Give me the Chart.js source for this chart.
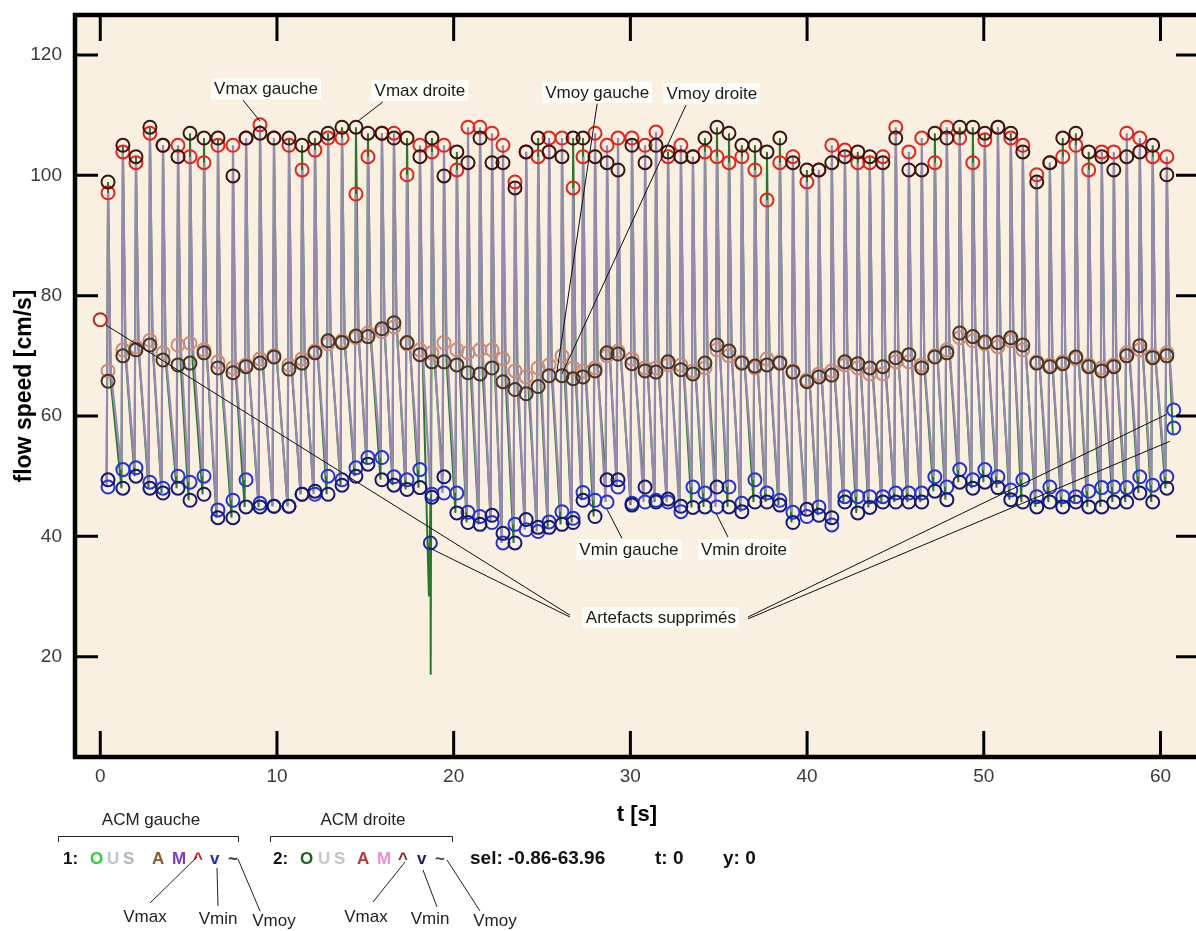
<!DOCTYPE html>
<html>
<head>
<meta charset="utf-8">
<script src="https://cdn.jsdelivr.net/npm/chart.js@4/dist/chart.umd.min.js"></script>
<style>
  body { margin: 0; background: #fff; overflow: hidden; }
</style>
</head>
<body>
<canvas id="flowChart" width="1230" height="931"></canvas>
<script>
// temps des pics systoliques [s]
var beatT = [0.44, 1.28, 2.02, 2.81, 3.55, 4.40, 5.08, 5.87, 6.66, 7.51, 8.25, 9.04, 9.83, 10.68, 11.42, 12.15, 12.89, 13.68, 14.47, 15.15, 15.94, 16.62,
  17.36, 18.09, 18.77, 19.45, 20.18, 20.81, 21.49, 22.17, 22.79, 23.47, 24.10, 24.78, 25.40, 26.13, 26.76, 27.32, 28.00, 28.68, 29.30, 30.09,
  30.83, 31.45, 32.13, 32.86, 33.54, 34.22, 34.90, 35.58, 36.31, 37.05, 37.73, 38.46, 39.20, 39.99, 40.67, 41.40, 42.14, 42.87, 43.55, 44.29,
  45.02, 45.76, 46.49, 47.23, 47.91, 48.64, 49.38, 50.06, 50.80, 51.53, 52.21, 53.00, 53.74, 54.47, 55.21, 55.94, 56.68, 57.36, 58.09, 58.83,
  59.56, 60.36];

var vmaxGauche = [97.1, 103.9, 102.1, 107.0, 105.0, 105.0, 103.1, 102.1, 105.0, 105.0, 106.2, 108.4, 106.2, 105.0, 100.9, 104.2, 106.2, 106.2, 96.9, 103.1, 107.0, 107.0,
  100.1, 105.0, 103.9, 105.0, 100.9, 108.0, 108.0, 107.0, 105.0, 98.9, 103.9, 103.1, 106.2, 106.2, 97.9, 103.1, 107.0, 105.0, 106.2, 106.2,
  105.0, 107.2, 103.1, 105.0, 103.1, 103.9, 103.1, 102.1, 103.1, 100.9, 95.9, 102.1, 103.1, 98.9, 100.9, 105.0, 104.2, 102.1, 102.1, 103.1,
  108.0, 103.9, 106.2, 102.1, 108.0, 106.2, 102.1, 105.9, 108.0, 106.2, 105.0, 100.1, 102.1, 103.1, 105.0, 100.9, 103.9, 103.9, 107.0, 106.2,
  103.1, 103.1];

var vmaxDroite = [98.9, 105.0, 103.1, 108.0, 105.0, 103.1, 107.0, 106.2, 106.2, 99.9, 106.2, 107.0, 106.2, 106.2, 105.0, 106.2, 107.0, 108.0, 108.0, 107.0, 107.0, 106.2,
  106.2, 103.1, 106.2, 99.9, 103.9, 102.1, 106.2, 102.1, 102.1, 97.9, 103.9, 106.2, 103.9, 103.1, 106.2, 106.2, 103.1, 102.1, 100.9, 105.0,
  102.1, 105.0, 103.9, 103.1, 103.1, 106.2, 108.0, 107.0, 105.0, 105.0, 103.9, 106.2, 102.1, 100.9, 100.9, 102.1, 103.1, 103.9, 103.1, 102.1,
  106.2, 100.9, 100.9, 107.0, 106.2, 108.0, 108.0, 107.0, 108.0, 107.0, 103.9, 98.9, 102.1, 106.2, 107.0, 103.9, 103.1, 100.9, 103.1, 103.9,
  105.0, 100.1];

var vminGauche = [48.2, 51.1, 51.4, 49.0, 48.0, 50.0, 49.0, 50.0, 44.4, 46.0, 49.4, 45.5, 45.0, 45.0, 47.0, 47.0, 50.0, 49.4, 51.4, 53.1, 53.1, 49.9,
  49.4, 51.1, 47.0, 47.2, 47.2, 44.0, 43.3, 42.3, 38.9, 42.0, 41.1, 40.8, 42.4, 44.1, 43.0, 47.3, 46.0, 45.7, 48.2, 45.5,
  45.7, 46.0, 45.7, 44.1, 48.2, 47.2, 44.9, 48.2, 45.5, 49.4, 47.2, 46.0, 44.0, 43.3, 44.9, 41.9, 46.6, 46.6, 46.6, 46.6,
  47.2, 47.2, 47.2, 49.9, 48.2, 51.1, 49.4, 51.1, 49.9, 47.7, 49.4, 46.6, 48.2, 46.6, 46.6, 47.5, 48.1, 48.2, 48.1, 49.9,
  48.5, 49.9];

var vminDroite = [49.4, 48.0, 50.0, 48.0, 47.2, 48.0, 46.0, 47.0, 43.1, 43.1, 44.9, 44.9, 45.0, 45.0, 47.0, 47.5, 47.0, 48.5, 50.0, 52.0, 49.4, 48.5,
  47.8, 48.1, 46.5, 49.9, 43.9, 42.3, 42.0, 43.5, 40.5, 38.9, 42.8, 41.5, 41.5, 42.0, 42.3, 46.0, 43.3, 49.4, 49.4, 45.2,
  48.2, 45.7, 46.2, 45.0, 44.8, 44.9, 48.2, 44.9, 44.1, 45.7, 45.7, 45.2, 42.3, 44.5, 43.5, 43.1, 45.7, 43.9, 44.8, 45.7,
  45.7, 45.7, 45.7, 47.5, 46.1, 49.0, 48.0, 49.0, 48.1, 46.1, 45.7, 44.9, 45.7, 44.9, 45.7, 44.9, 44.9, 45.7, 45.7, 47.2,
  45.7, 48.0];

var vmoyGauche = [67.5, 71.0, 71.5, 72.6, 70.5, 71.8, 72.1, 71.0, 69.0, 68.0, 68.5, 69.5, 70.0, 68.5, 69.5, 70.8, 72.0, 72.5, 73.0, 73.8, 74.0, 74.8,
  72.0, 71.0, 70.5, 72.2, 71.0, 70.5, 71.0, 71.0, 69.5, 67.5, 66.5, 68.0, 68.5, 70.0, 68.0, 67.5, 68.0, 70.0, 70.8, 69.5,
  68.0, 68.0, 68.5, 68.5, 67.5, 68.0, 71.0, 70.0, 69.0, 68.0, 69.5, 69.0, 67.5, 66.0, 67.0, 67.5, 68.5, 68.0, 67.0, 67.0,
  69.0, 69.0, 68.5, 70.0, 71.0, 73.0, 72.5, 72.0, 71.5, 72.5, 71.0, 69.0, 68.5, 69.0, 69.5, 68.5, 68.0, 68.5, 70.5, 71.0,
  70.0, 70.5];

var vmoyDroite = [65.8, 70.0, 71.0, 71.8, 69.3, 68.5, 68.8, 70.5, 68.0, 67.2, 68.2, 68.8, 69.8, 67.8, 68.8, 70.5, 72.5, 72.2, 73.3, 73.2, 74.5, 75.5,
  72.2, 70.2, 69.0, 69.0, 68.5, 67.2, 67.0, 68.0, 65.7, 64.4, 63.7, 64.9, 66.7, 66.7, 66.2, 66.5, 67.5, 70.5, 70.3, 68.7,
  67.5, 67.3, 69.0, 67.7, 67.0, 68.8, 71.8, 70.8, 68.8, 68.3, 68.5, 68.8, 67.3, 65.7, 66.5, 66.8, 69.0, 68.7, 68.0, 68.2,
  69.7, 70.2, 68.0, 69.8, 70.5, 73.8, 73.2, 72.3, 72.2, 73.0, 71.8, 68.8, 68.2, 68.7, 69.8, 68.2, 67.5, 68.2, 70.0, 71.7,
  69.7, 70.0];

// artefacts supprimés (points isolés)
var artefactT = [0.0, 18.68, 60.75, 60.75];
var artefactV = [76.0, 38.9, 61.0, 58.0];

// pointe de l'artefact sur le tracé droit, et fin des tracés
var spikeT = [18.60, 18.70];
var spikeV = [30.0, 17.0];
var tailT = [60.70];
var tailGauche = [62.0];
var tailDroite = [57.0];

var xTicks = [0, 10, 20, 30, 40, 50, 60];
var yTicks = [20, 40, 60, 80, 100, 120];

var riseTime = 0.08; // min juste avant la montée systolique
var fallTime = 0.15; // retombée rapide vers le niveau moyen

function buildTrace(vmin, vmax, vmoy, extraT, extraV) {
    var pts = [];
    for (var i = 0; i < beatT.length; i++) {
        pts.push({ x: beatT[i] - riseTime, y: vmin[i] });
        pts.push({ x: beatT[i], y: vmax[i] });
        pts.push({ x: beatT[i] + fallTime, y: vmoy[i] });
    }
    for (var j = 0; j < extraT.length; j++) {
        pts.push({ x: extraT[j], y: extraV[j] });
    }
    pts.sort(function (a, b) { return a.x - b.x; });
    return pts;
}

function points(values) {
    return beatT.map(function (t, i) { return { x: t, y: values[i] }; });
}

function circles(label, values, color) {
    return {
        label: label,
        data: points(values),
        showLine: false,
        pointStyle: 'circle',
        pointRadius: 6.5,
        pointBorderWidth: 2,
        pointBorderColor: color,
        pointBackgroundColor: 'rgba(0,0,0,0)'
    };
}

var artefactPts = artefactT.map(function (t, i) { return { x: t, y: artefactV[i] }; });

var traceGauche = buildTrace(vminGauche, vmaxGauche, vmoyGauche, tailT, tailGauche);
var traceDroite = buildTrace(vminDroite, vmaxDroite, vmoyDroite, spikeT.concat(tailT), spikeV.concat(tailDroite));

// annotations (en unités des axes)
var notes = [
    { text: 'Vmax gauche', t: 9.38, v: 114.3, lines: [[8.08, 112.5, 9.04, 109.0]] },
    { text: 'Vmax droite', t: 18.09, v: 114.0, lines: [[15.99, 112.2, 14.58, 109.0]] },
    { text: 'Vmoy gauche', t: 28.12, v: 113.7, lines: [[28.12, 111.9, 25.84, 67.3]] },
    { text: 'Vmoy droite', t: 34.61, v: 113.5, lines: [[33.15, 111.7, 26.13, 67.0]] },
    { text: 'Vmin gauche', t: 29.92, v: 37.7, lines: [[29.52, 39.7, 28.68, 44.5]] },
    { text: 'Vmin droite', t: 36.43, v: 37.7, lines: [[35.52, 39.9, 34.84, 43.9]] },
    { text: 'Artefacts supprimés', t: 31.73, v: 26.4, lines: [
        [26.58, 26.9, 0.33, 75.1], [26.58, 26.6, 18.55, 38.2],
        [36.66, 26.6, 60.36, 60.3], [36.66, 26.3, 60.53, 55.8]] }
];

var framePlugin = {
    id: 'frame',
    beforeDraw: function (chart) {
        var ctx = chart.ctx, a = chart.chartArea;
        ctx.save();
        ctx.fillStyle = '#ffffff';
        ctx.fillRect(0, 0, chart.width, chart.height);
        ctx.fillStyle = '#faf0e1';
        ctx.fillRect(a.left, a.top, a.right - a.left, a.bottom - a.top);
        ctx.restore();
    },
    afterDatasetsDraw: function (chart) {
        var ctx = chart.ctx, a = chart.chartArea;
        var sx = chart.scales.x, sy = chart.scales.y;
        ctx.save();

        // traits des annotations
        ctx.strokeStyle = '#111';
        ctx.lineWidth = 1;
        notes.forEach(function (n) {
            n.lines.forEach(function (l) {
                ctx.beginPath();
                ctx.moveTo(sx.getPixelForValue(l[0]), sy.getPixelForValue(l[1]));
                ctx.lineTo(sx.getPixelForValue(l[2]), sy.getPixelForValue(l[3]));
                ctx.stroke();
            });
        });
        ctx.font = '17px Arial';
        ctx.textAlign = 'center';
        ctx.textBaseline = 'middle';
        notes.forEach(function (n) {
            var x = sx.getPixelForValue(n.t), y = sy.getPixelForValue(n.v);
            var w = ctx.measureText(n.text).width;
            ctx.fillStyle = '#fffdf9';
            ctx.fillRect(x - w / 2 - 3, y - 11, w + 6, 21);
            ctx.fillStyle = '#1a1a1a';
            ctx.fillText(n.text, x, y);
        });

        // cadre noir
        ctx.strokeStyle = '#000';
        ctx.lineWidth = 4.5;
        ctx.strokeRect(a.left, a.top, a.right - a.left, a.bottom - a.top);

        // graduations vers l'intérieur
        ctx.lineWidth = 3;
        ctx.beginPath();
        yTicks.forEach(function (v) {
            var y = sy.getPixelForValue(v);
            ctx.moveTo(a.left, y); ctx.lineTo(a.left + 23, y);
            ctx.moveTo(a.right, y); ctx.lineTo(a.right - 23, y);
        });
        xTicks.forEach(function (t) {
            var x = sx.getPixelForValue(t);
            ctx.moveTo(x, a.bottom); ctx.lineTo(x, a.bottom - 26);
            ctx.moveTo(x, a.top); ctx.lineTo(x, a.top + 26);
        });
        ctx.stroke();
        ctx.restore();
    },
    afterDraw: function (chart) {
        var ctx = chart.ctx;
        ctx.save();
        ctx.fillStyle = '#222';
        ctx.strokeStyle = '#222';
        ctx.lineWidth = 1;
        ctx.textBaseline = 'alphabetic';

        // titres des groupes + accolades
        ctx.font = '17px Arial';
        ctx.textAlign = 'center';
        ctx.fillText('ACM gauche', 151, 825);
        ctx.fillText('ACM droite', 363, 825);
        ctx.beginPath();
        ctx.moveTo(58.5, 842); ctx.lineTo(58.5, 836.5); ctx.lineTo(238.5, 836.5); ctx.lineTo(238.5, 842);
        ctx.moveTo(270.5, 842); ctx.lineTo(270.5, 836.5); ctx.lineTo(452.5, 836.5); ctx.lineTo(452.5, 842);
        ctx.stroke();

        // lettres des signaux
        var group1 = [['1:', 63, '#111'], ['O', 90, '#2fcc2f'], ['U', 107, '#b8c6d4'], ['S', 123, '#b4b4b4'],
            ['A', 152, '#8b5a2b'], ['M', 172, '#7b3cc4'], ['^', 193, '#d02020'], ['v', 210, '#1f2fb0'], ['~', 228, '#333']];
        var group2 = [['2:', 273, '#111'], ['O', 300, '#1f5f1f'], ['U', 318, '#c8c8c8'], ['S', 334, '#c2c2c2'],
            ['A', 357, '#b23a3a'], ['M', 377, '#e88fe0'], ['^', 398, '#8a1f2a'], ['v', 417, '#1a1a6e'], ['~', 435, '#444']];
        ctx.font = 'bold 17px Arial';
        ctx.textAlign = 'left';
        group1.concat(group2).forEach(function (g) {
            ctx.fillStyle = g[2];
            ctx.fillText(g[0], g[1], 864);
        });

        ctx.fillStyle = '#111';
        ctx.font = 'bold 19px Arial';
        ctx.fillText('sel: -0.86-63.96', 470, 864);
        ctx.fillText('t: 0', 655, 864);
        ctx.fillText('y: 0', 723, 864);

        // étiquettes Vmax / Vmin / Vmoy
        ctx.font = '17px Arial';
        ctx.textAlign = 'center';
        ctx.fillStyle = '#222';
        var subs = [['Vmax', 145, 922, 150, 903, 197, 857], ['Vmin', 218, 924, 218, 906, 217, 868], ['Vmoy', 274, 926, 260, 911, 238, 859],
            ['Vmax', 366, 922, 373, 902, 405, 862], ['Vmin', 430, 924, 437, 907, 423, 870], ['Vmoy', 495, 926, 480, 911, 447, 860]];
        ctx.beginPath();
        subs.forEach(function (s) {
            ctx.fillText(s[0], s[1], s[2]);
            ctx.moveTo(s[3], s[4]); ctx.lineTo(s[5], s[6]);
        });
        ctx.stroke();
        ctx.restore();
    }
};

var ctx = document.getElementById('flowChart').getContext('2d');

var flowChart = new Chart(ctx, {
    type: 'scatter',
    data: {
        datasets: [
            circles('Vmax droite', vmaxDroite, '#3b1410'),
            circles('Vmax gauche', vmaxGauche, '#e3231d'),
            circles('Vmin droite', vminDroite, '#14186e'),
            circles('Vmin gauche', vminGauche, '#2433d6'),
            circles('Vmoy droite', vmoyDroite, '#4a3424'),
            circles('Vmoy gauche', vmoyGauche, '#c98d7c'),
            {
                label: 'artefacts',
                data: artefactPts,
                showLine: false,
                pointRadius: 6.5,
                pointBorderWidth: 2,
                pointBorderColor: ['#b8281c', '#1f2aa8', '#2535d0', '#2535d0'],
                pointBackgroundColor: 'rgba(0,0,0,0)'
            },
            {
                label: 'ACM gauche',
                data: traceGauche,
                showLine: true,
                borderColor: '#958aad',
                borderWidth: 2.2,
                pointRadius: 0,
                tension: 0
            },
            {
                label: 'ACM droite',
                data: traceDroite,
                showLine: true,
                borderColor: '#2b762b',
                borderWidth: 2,
                pointRadius: 0,
                tension: 0
            }
        ]
    },
    options: {
        responsive: false,
        animation: false,
        devicePixelRatio: 1,
        layout: { padding: { left: 0, top: 15, right: 31, bottom: 0 } },
        plugins: {
            legend: { display: false },
            tooltip: { enabled: false }
        },
        scales: {
            x: {
                type: 'linear',
                min: -1.43,
                max: 62.18,
                afterBuildTicks: function (s) { s.ticks = xTicks.map(function (v) { return { value: v }; }); },
                afterFit: function (s) { s.height = 174; s.paddingLeft = 0; s.paddingRight = 0; },
                grid: { display: false, drawTicks: false },
                border: { display: false },
                ticks: { autoSkip: false, maxRotation: 0, padding: 8, color: '#3a3a3a', font: { family: 'Arial', size: 19 } },
                title: {
                    display: true,
                    text: 't [s]',
                    color: '#000',
                    font: { family: 'Arial', size: 22, weight: 'bold' },
                    padding: { top: 0, bottom: 103 }
                }
            },
            y: {
                type: 'linear',
                min: 3.33,
                max: 126.65,
                afterBuildTicks: function (s) { s.ticks = yTicks.map(function (v) { return { value: v }; }); },
                afterFit: function (s) { s.width = 75; s.paddingTop = 0; s.paddingBottom = 0; },
                grid: { display: false, drawTicks: false },
                border: { display: false },
                ticks: { autoSkip: false, padding: 13, color: '#3a3a3a', font: { family: 'Arial', size: 19 } },
                title: {
                    display: true,
                    text: 'flow speed [cm/s]',
                    color: '#000',
                    font: { family: 'Arial', size: 23, weight: 'bold' },
                    padding: { top: 11, bottom: 0 }
                }
            }
        }
    },
    plugins: [framePlugin]
});
</script>
</body>
</html>
